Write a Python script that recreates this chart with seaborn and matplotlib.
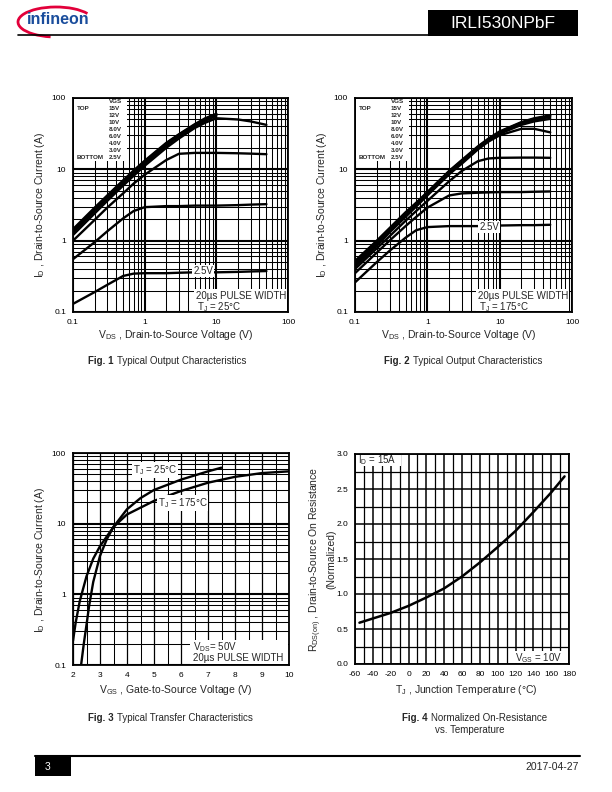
import matplotlib
matplotlib.use("Agg")
import matplotlib.pyplot as plt
import matplotlib.ticker as mticker
from matplotlib.patches import Rectangle, Arc
import seaborn as sns

sns.set_style("white")
plt.rcParams["font.family"] = ["Liberation Sans", "DejaVu Sans"]
plt.rcParams["mathtext.fontset"] = "custom"
plt.rcParams["mathtext.rm"] = "Liberation Sans"
plt.rcParams["mathtext.it"] = "Liberation Sans:italic"
plt.rcParams["mathtext.bf"] = "Liberation Sans:bold"
plt.rcParams["axes.unicode_minus"] = False

# ---------------- data ----------------
vgs_labels = ["15V", "12V", "10V", "8.0V", "6.0V", "4.0V", "3.0V", "2.5V"]
vds = [0.1, 0.2, 0.3, 0.5, 0.7, 1, 2, 3, 5, 7, 10, 20, 30, 50]

# Fig 1, Tj = 25C, drain current (A)
id25_15v = [1.45, 2.9, 4.3, 7.0, 9.6, 13.2, 23.5, 31, 43, 52, 60]
id25_12v = [1.4, 2.8, 4.15, 6.8, 9.3, 12.8, 23, 30.5, 42, 51, 59]
id25_10v = [1.35, 2.7, 4.0, 6.6, 9.0, 12.4, 22.5, 30, 41, 50, 58]
id25_8v = [1.3, 2.6, 3.85, 6.35, 8.7, 12.0, 21.5, 29, 40, 48, 56]
id25_6v = [1.2, 2.4, 3.6, 5.9, 8.1, 11.2, 20, 27, 38, 45, 52, 50, 47, 42]
id25_4v = [1.0, 1.95, 2.9, 4.6, 6.3, 8.4, 13.5, 16.5, 17, 17, 17, 16.8, 16.6, 16.3]
id25_3v = [0.55, 0.95, 1.35, 2.05, 2.6, 2.95, 3.05, 3.05, 3.1, 3.1, 3.1, 3.15, 3.2, 3.25]
id25_2v5 = [0.13, 0.19, 0.24, 0.32, 0.345, 0.35, 0.35, 0.355, 0.36, 0.36, 0.36, 0.365, 0.37, 0.375]

# Fig 2, Tj = 175C
id175_15v = [0.52, 1.0, 1.5, 2.5, 3.4, 4.8, 9.5, 13.5, 21, 27, 34, 46, 52, 57]
id175_12v = [0.5, 0.97, 1.45, 2.45, 3.3, 4.7, 9.3, 13.2, 20.5, 26.5, 33.5, 45, 51, 56]
id175_10v = [0.48, 0.94, 1.4, 2.35, 3.2, 4.6, 9.1, 13, 20, 26, 33, 44, 50, 54]
id175_8v = [0.46, 0.9, 1.35, 2.25, 3.1, 4.45, 8.8, 12.5, 19.5, 25, 31.5, 42, 47, 51]
id175_6v = [0.43, 0.85, 1.3, 2.15, 3.0, 4.3, 8.5, 12, 19, 24.5, 30, 37, 37, 33]
id175_4v = [0.4, 0.78, 1.15, 1.9, 2.6, 3.6, 6.8, 9.5, 13.0, 14.2, 14.5, 14.6, 14.6, 14.5]
id175_3v = [0.35, 0.68, 1.0, 1.6, 2.15, 2.9, 4.3, 4.6, 4.7, 4.75, 4.8, 4.8, 4.85, 4.9]
id175_2v5 = [0.26, 0.5, 0.72, 1.1, 1.4, 1.55, 1.6, 1.6, 1.6, 1.62, 1.63, 1.65, 1.65, 1.67]

# Fig 3, transfer characteristics (VDS = 50V)
vgs_25c = [2.3, 2.4, 2.5, 2.6, 2.75, 3.0, 3.25, 3.5, 4, 4.5, 5, 6, 7, 7.5]
id_25c = [0.1, 0.2, 0.37, 0.7, 1.5, 3.5, 6, 9, 16, 23, 30, 42, 55, 62]
vgs_175c = [2.0, 2.1, 2.25, 2.5, 2.75, 3.0, 3.5, 4, 5, 6, 7, 8, 9, 10]
id_175c = [0.22, 0.4, 0.8, 1.8, 3.2, 4.8, 9, 13.5, 21, 29, 38, 46, 52, 55]

# Fig 4, normalized RDS(on) vs junction temperature
tj = [-55, -40, -20, 0, 20, 40, 60, 80, 100, 120, 140, 160, 175]
rds_norm = [0.59, 0.65, 0.73, 0.83, 0.95, 1.08, 1.25, 1.45, 1.67, 1.9, 2.17, 2.45, 2.68]

curves_25 = [id25_15v, id25_12v, id25_10v, id25_8v, id25_6v, id25_4v, id25_3v, id25_2v5]
curves_175 = [id175_15v, id175_12v, id175_10v, id175_8v, id175_6v, id175_4v, id175_3v, id175_2v5]

# ---------------- figure ----------------
W, H = 612, 792
fig = plt.figure(figsize=(W / 100, H / 100), dpi=100)


def add_ax(box):
    x0, y0, x1, y1 = box
    return fig.add_axes([x0 / W, 1 - y1 / H, (x1 - x0) / W, (y1 - y0) / H])


def frac(box, px, py):
    x0, y0, x1, y1 = box
    return (px - x0) / (x1 - x0), (y1 - py) / (y1 - y0)


def style_ax(ax):
    for s in ax.spines.values():
        s.set_color("black")
        s.set_linewidth(1.3)
    ax.grid(which="major", color="black", lw=1.5)
    ax.grid(which="minor", color="black", lw=0.75)
    ax.set_axisbelow(True)
    ax.tick_params(which="both", length=0, labelsize=6, pad=5, colors="black")


def log_axis(axis):
    axis.set_major_locator(mticker.LogLocator(10, numticks=10))
    axis.set_minor_locator(mticker.LogLocator(10, subs=range(2, 10), numticks=40))
    axis.set_major_formatter(mticker.FuncFormatter(lambda v, _: f"{v:g}"))
    axis.set_minor_formatter(mticker.NullFormatter())


def set_labels(ax, box, xl, xpos, yl, ypos):
    ax.set_xlabel(xl, fontsize=7.5)
    ax.set_ylabel(yl, fontsize=7.5)
    ax.xaxis.set_label_coords(*frac(box, *xpos))
    ax.yaxis.set_label_coords(*frac(box, *ypos))
    ax.xaxis.label.set_va("center")
    ax.yaxis.label.set_va("center")


box1 = (73, 98, 288, 312)
box2 = (355, 98, 572, 312)
box3 = (73, 453, 289, 665)
box4 = (355, 454, 569, 664)

# output characteristics
for box, curves in [(box1, curves_25), (box2, curves_175)]:
    ax = add_ax(box)
    for ids in curves:
        sns.lineplot(x=vds[:len(ids)], y=ids, ax=ax, color="black", lw=1.7,
                     estimator=None, sort=False)
    ax.set_xscale("log")
    ax.set_yscale("log")
    ax.set_xlim(0.1, 100)
    ax.set_ylim(0.1, 100)
    log_axis(ax.xaxis)
    log_axis(ax.yaxis)
    style_ax(ax)
    cx = (box[0] + box[2]) / 2
    set_labels(ax, box, r"V$_{\rm DS}$ , Drain-to-Source Voltage (V)", (cx - 5, 335),
               r"I$_{\rm D}$ , Drain-to-Source Current (A)", (box[0] - 33, 205))

# transfer characteristics
ax3 = add_ax(box3)
sns.lineplot(x=vgs_25c, y=id_25c, ax=ax3, color="black", lw=1.7, estimator=None, sort=False)
sns.lineplot(x=vgs_175c, y=id_175c, ax=ax3, color="black", lw=1.7, estimator=None, sort=False)
ax3.set_yscale("log")
ax3.set_xlim(2, 10)
ax3.set_ylim(0.1, 100)
ax3.xaxis.set_major_locator(mticker.MultipleLocator(1))
ax3.xaxis.set_minor_locator(mticker.MultipleLocator(0.5))
log_axis(ax3.yaxis)
style_ax(ax3)
ax3.grid(which="major", axis="x", lw=0.9)
set_labels(ax3, box3, r"V$_{\rm GS}$ , Gate-to-Source Voltage (V)", (176, 690),
           r"I$_{\rm D}$ , Drain-to-Source Current (A)", (40, 560))

# on-resistance vs temperature
ax4 = add_ax(box4)
sns.lineplot(x=tj, y=rds_norm, ax=ax4, color="black", lw=1.8, estimator=None, sort=False)
ax4.set_xlim(-60, 180)
ax4.set_ylim(0, 3)
ax4.xaxis.set_major_locator(mticker.MultipleLocator(20))
ax4.xaxis.set_minor_locator(mticker.MultipleLocator(10))
ax4.yaxis.set_major_locator(mticker.MultipleLocator(0.5))
ax4.yaxis.set_minor_locator(mticker.MultipleLocator(0.25))
ax4.yaxis.set_major_formatter(mticker.FormatStrFormatter("%.1f"))
style_ax(ax4)
ax4.grid(which="major", lw=1.1)
ax4.grid(which="minor", lw=0.9)
set_labels(ax4, box4, r"T$_{\rm J}$ , Junction Temperature (°C)", (466, 690),
           "R$_{\\rm DS(on)}$ , Drain-to-Source On Resistance\n(Normalized)", (322, 559))

# ---------------- page furniture / annotations (pixel coords) ----------------
page = fig.add_axes([0, 0, 1, 1], zorder=10)
page.set_xlim(0, W)
page.set_ylim(H, 0)
page.axis("off")


def white(x0, y0, x1, y1):
    page.add_patch(Rectangle((x0, y0), x1 - x0, y1 - y0, facecolor="white", edgecolor="none"))


def txt(x, y, s, **kw):
    kw.setdefault("fontsize", 7)
    kw.setdefault("va", "center")
    page.text(x, y, s, **kw)


def caption(x, y, num, rest):
    txt(x, y, "Fig. " + num, fontweight="bold")
    txt(x + 29, y, rest)


# header
page.add_patch(Arc((56, 22), 76, 30, theta1=110, theta2=345, color="#e2003a", lw=2))
txt(27, 19, "infineon", fontsize=11.5, color="#1a4d9c", fontweight="bold")
page.plot([18, 428], [35, 35], color="black", lw=1.2)
page.add_patch(Rectangle((428, 10), 150, 26, facecolor="black", edgecolor="none"))
txt(503, 23, "IRLI530NPbF", fontsize=12.5, color="white", ha="center")

# footer
page.plot([35, 580], [756, 756], color="black", lw=1.5)
page.add_patch(Rectangle((35, 756), 36, 20, facecolor="black", edgecolor="none"))
txt(45, 767, "3", fontsize=7.5, color="white")
txt(579, 767, "2017-04-27", fontsize=7.5, ha="right")

# VGS legend blocks + pulse notes
for dx, temp in [(0, "25°C"), (282, "175°C")]:
    white(74 + dx, 99, 127 + dx, 161)
    txt(109 + dx, 101.5, "VGS", fontsize=4.5, fontweight="bold")
    for i, lab in enumerate(vgs_labels):
        txt(109 + dx, 108.5 + 7 * i, lab, fontsize=4.5, fontweight="bold")
    txt(77 + dx, 108.5, "TOP", fontsize=4.5, fontweight="bold")
    txt(77 + dx, 157.5, "BOTTOM", fontsize=4.5, fontweight="bold")
    white(194 + dx, 289, 287 + dx, 311)
    txt(196 + dx, 296, "20µs PULSE WIDTH", fontsize=7)
    txt(197 + dx, 307, r"T$_{\rm J}$ = " + temp, fontsize=7)

txt(203, 271, "2.5V", fontsize=7, ha="center",
    bbox=dict(facecolor="white", edgecolor="none", pad=0.5))
txt(489, 227, "2.5V", fontsize=7, ha="center",
    bbox=dict(facecolor="white", edgecolor="none", pad=0.5))

# fig 3 notes
txt(133, 470, r"T$_{\rm J}$ = 25°C", fontsize=7,
    bbox=dict(facecolor="white", edgecolor="none", pad=0.5))
txt(158, 503, r"T$_{\rm J}$ = 175°C", fontsize=7,
    bbox=dict(facecolor="white", edgecolor="none", pad=0.5))
white(190, 640, 288, 664)
txt(193, 647, r"V$_{\rm DS}$= 50V", fontsize=7)
txt(193, 658, "20µs PULSE WIDTH", fontsize=7)

# fig 4 notes
white(356, 455, 401, 466)
txt(358, 460, r"I$_{\rm D}$ = 15A", fontsize=7)
white(512, 651, 568, 663)
txt(515, 658, r"V$_{\rm GS}$ = 10V", fontsize=7)

# captions
caption(88, 361, "1", "Typical Output Characteristics")
caption(384, 361, "2", "Typical Output Characteristics")
caption(88, 718, "3", "Typical Transfer Characteristics")
caption(402, 718, "4", "Normalized On-Resistance")
txt(470, 730, "vs. Temperature", fontsize=7, ha="center")

fig.savefig("out.png", dpi=100)
